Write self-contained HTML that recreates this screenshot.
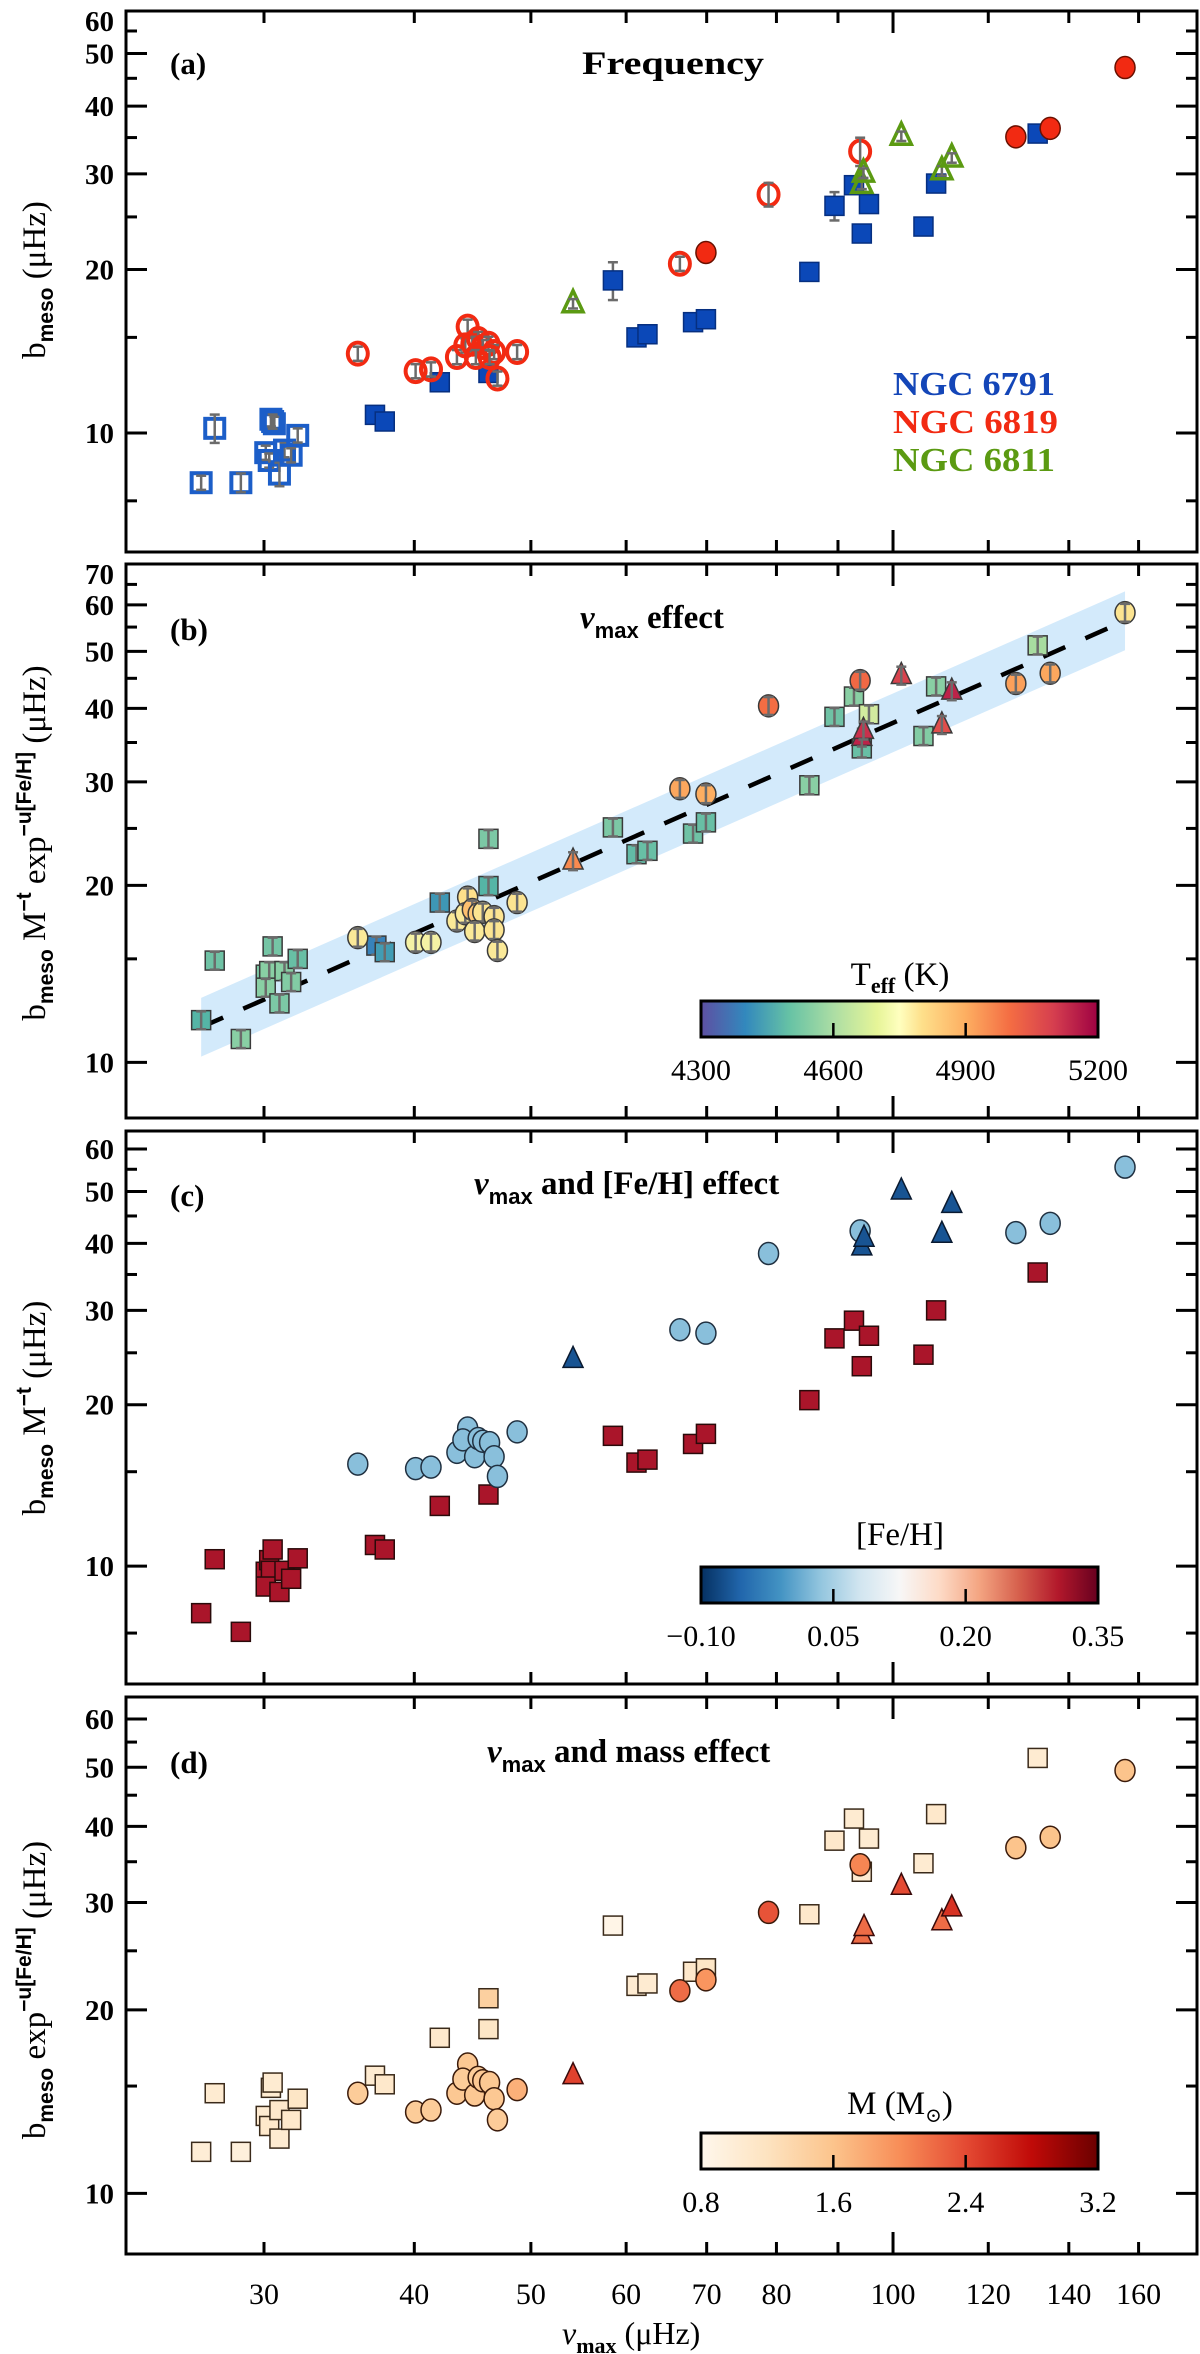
<!DOCTYPE html>
<html><head><meta charset="utf-8"><title>bmeso vs numax</title>
<style>
html,body{margin:0;padding:0;background:#fff;}
svg{display:block;font-family:"Liberation Serif","DejaVu Serif",serif;}
</style></head>
<body>
<svg id="fig" xmlns="http://www.w3.org/2000/svg" width="1200" height="2354" viewBox="0 0 1200 2354">
<defs>
<linearGradient id="gT" x1="0" x2="1" y1="0" y2="0">
<stop offset="0" stop-color="#5e4fa2"/><stop offset="0.111" stop-color="#3288bd"/><stop offset="0.222" stop-color="#66c2a5"/><stop offset="0.333" stop-color="#abdda4"/><stop offset="0.444" stop-color="#e6f598"/><stop offset="0.5" stop-color="#ffffbf"/><stop offset="0.556" stop-color="#fee08b"/><stop offset="0.667" stop-color="#fdae61"/><stop offset="0.778" stop-color="#f46d43"/><stop offset="0.889" stop-color="#d53e4f"/><stop offset="1" stop-color="#9e0142"/>
</linearGradient>
<linearGradient id="gF" x1="0" x2="1" y1="0" y2="0">
<stop offset="0" stop-color="#053061"/><stop offset="0.1" stop-color="#2166ac"/><stop offset="0.2" stop-color="#4393c3"/><stop offset="0.3" stop-color="#92c5de"/><stop offset="0.4" stop-color="#d1e5f0"/><stop offset="0.5" stop-color="#f7f7f7"/><stop offset="0.6" stop-color="#fddbc7"/><stop offset="0.7" stop-color="#f4a582"/><stop offset="0.8" stop-color="#d6604d"/><stop offset="0.9" stop-color="#b2182b"/><stop offset="1" stop-color="#67001f"/>
</linearGradient>
<linearGradient id="gM" x1="0" x2="1" y1="0" y2="0">
<stop offset="0" stop-color="#fff7ec"/><stop offset="0.167" stop-color="#fde3c0"/><stop offset="0.333" stop-color="#fcc48c"/><stop offset="0.5" stop-color="#f88e58"/><stop offset="0.667" stop-color="#e44a33"/><stop offset="0.833" stop-color="#c00a08"/><stop offset="1" stop-color="#6b0000"/>
</linearGradient>
</defs>
<g id="layer"></g>
</svg>
<script>
// ---------- DATA ----------
// Panel (a)
const a6791openNu = [26.6,27.3,28.7,30.1,30.3,30.4,30.6,30.9,31.2,31.6,32.0,30.5];
const a6791openB  = [8.1,10.2,8.1,9.2,8.9,10.6,10.4,8.4,9.3,9.1,9.9,10.5];
const a6791openErr= [0.03,0.06,0.04,0.03,0.03,0.03,0.03,0.05,0.03,0.03,0.03,0.03];
const a6791fillNu = [37.1,37.8,42.0,46.1,58.5,61.2,62.5,68.2,69.9,85.2,89.4,92.8,94.2,95.5,106,108.6,131.9];
const a6791fillB  = [10.8,10.5,12.4,12.9,19.1,15.0,15.2,16.0,16.2,19.8,26.2,28.6,23.3,26.4,24.0,28.8,35.6];
const a6791fillErr= [0.02,0.02,0.03,0.03,0.08,0.02,0.02,0.02,0.02,0.03,0.06,0.03,0.02,0.02,0.02,0.02,0.02];
const a6819openNu = [35.9,40.1,41.3,43.4,44.3,44.1,44.7,45.2,45.6,46.1,46.6,46.9,48.7,45.0,46.2,66.5,78.8,93.9];
const a6819openB  = [14.0,13.0,13.1,13.8,15.7,14.5,14.6,14.9,14.4,14.6,14.1,12.6,14.1,13.8,13.8,20.5,27.5,33.0];
const a6819openErr= [0.03,0.03,0.03,0.03,0.03,0.03,0.03,0.03,0.03,0.03,0.03,0.03,0.03,0.03,0.03,0.03,0.05,0.06];
const a6819fillNu = [69.9,126.5,135.1,155.9];
const a6819fillB  = [21.5,35.1,36.4,47.1];
const a6811Nu = [54.2,94.2,94.5,101.6,109.8,111.9];
const a6811B  = [17.3,28.7,30.1,35.2,30.4,32.1];
// Panel (b)
const bSqNu = [26.6,27.3,28.7,30.1,30.3,30.5,30.1,30.9,31.2,31.6,32.0,37.2,37.8,42.0,46.1,46.1,58.5,61.2,62.5,68.2,69.9,85.2,89.4,92.8,94.2,95.5,106,108.6,131.9];
const bSqV  = [11.8,14.9,10.96,14.1,14.3,15.75,13.4,12.6,14.3,13.7,15.0,15.8,15.4,18.7,19.95,24.0,25.1,22.6,22.9,24.5,25.6,29.6,38.7,41.9,34.2,39.1,35.9,43.6,51.2];
const bSqT  = [4480,4520,4560,4540,4560,4530,4560,4540,4560,4550,4510,4380,4430,4420,4480,4540,4540,4500,4510,4520,4510,4560,4520,4560,4510,4680,4550,4560,4610];
const bCiNu = [35.9,40.1,41.3,43.4,44.3,44.1,44.7,45.2,45.6,46.6,44.9,46.6,46.9,48.7,66.5,69.9,78.8,93.9,126.5,135.1,155.9];
const bCiV  = [16.3,16.0,16.0,17.4,19.1,17.9,18.2,17.9,18.0,17.7,16.7,16.8,15.5,18.7,29.2,28.6,40.4,44.6,44.1,45.9,58.2];
const bCiT  = [4800,4760,4760,4800,4840,4800,4900,4880,4820,4820,4800,4820,4800,4820,4940,4930,5020,5030,4950,4940,4820];
const bTrNu = [54.2,94.2,94.5,101.6,109.8,111.9];
const bTrV  = [22.0,35.7,36.7,45.5,37.5,42.8];
const bTrT  = [4980,5150,5130,5100,5080,5150];
const bFit  = [0.599,0.900];   // b = k * numax^s
const bBand = [0.05];          // dex half-width
// Panel (c)
const cSqNu = [26.6,27.3,28.7,30.1,30.3,30.5,30.4,30.1,30.9,31.2,31.6,32.0,37.1,37.8,42.0,46.1,58.5,61.2,62.5,68.2,69.9,85.2,89.4,92.8,94.2,95.5,106,108.6,131.9];
const cSqV  = [8.17,10.3,7.54,9.76,10.26,10.74,9.8,9.16,8.95,9.8,9.47,10.34,10.95,10.74,12.95,13.6,17.5,15.6,15.8,16.9,17.65,20.4,26.6,28.7,23.6,26.9,24.8,30.0,35.3];
const cSqF  = 0.31;
const cCiNu = [35.9,40.1,41.3,43.4,44.3,43.9,44.9,45.2,45.6,46.2,46.6,46.9,48.7,66.5,69.9,78.8,93.9,126.5,135.1,155.9];
const cCiV  = [15.5,15.2,15.3,16.3,18.1,17.2,16.0,17.3,17.1,17.0,16.0,14.7,17.8,27.6,27.2,38.3,42.2,41.9,43.6,55.5];
const cCiF  = 0.03;
const cTrNu = [54.2,94.2,94.6,101.6,109.8,111.9];
const cTrV  = [24.3,39.4,40.9,50.1,41.6,47.3];
const cTrF  = -0.07;
// Panel (d)
const dSqNu = [26.6,27.3,28.7,30.4,30.5,30.1,30.3,30.9,30.9,31.6,32.0,37.1,37.8,42.0,46.1,46.1,58.5,61.2,62.5,68.2,69.9,85.2,89.4,92.8,94.2,95.5,106,108.6,131.9];
const dSqV  = [11.7,14.6,11.7,14.9,15.2,13.4,12.9,12.3,13.7,13.2,14.3,15.6,15.1,18.0,18.6,20.9,27.5,21.9,22.1,23.1,23.4,28.7,37.9,41.2,33.7,38.2,34.8,41.9,51.8];
const dSqM  = [1.0,1.05,0.95,1.05,1.05,1.05,1.1,1.05,1.1,1.1,1.15,1.05,1.1,1.1,1.15,1.45,0.85,1.05,1.05,1.1,1.15,1.1,1.1,1.05,1.05,1.05,1.05,1.1,1.05];
const dCiNu = [35.9,40.1,41.3,43.4,44.3,43.9,44.9,45.2,45.6,46.2,46.6,46.9,48.7,66.5,69.9,78.8,93.9,126.5,135.1,155.9];
const dCiV  = [14.6,13.6,13.7,14.6,16.3,15.4,14.5,15.5,15.3,15.2,14.3,13.2,14.8,21.5,22.4,28.9,34.6,36.9,38.4,49.4];
const dCiM  = [1.5,1.5,1.5,1.55,1.55,1.5,1.55,1.5,1.55,1.55,1.55,1.5,1.75,2.2,1.95,2.35,2.05,1.6,1.6,1.6];
const dTrNu = [54.2,94.2,94.6,101.6,109.8,111.9];
const dTrV  = [15.6,26.5,27.3,31.9,27.9,29.4];
const dTrM  = [2.45,2.2,2.2,2.4,2.2,2.55];
// axis ticks
const xTickVals = [30,40,50,60,70,80,90,100,120,140,160];
const xTickLabels = ["30","40","50","60","70","80","","100","120","140","160"];

// ---------- GEOMETRY ----------
const NS = "http://www.w3.org/2000/svg";
const L = document.getElementById('layer');
const XL = 126, XR = 1197;
const X = v => 264 + 1203*Math.log10(v/30);
const PANELS = {
  a:{top:11, bot:552, y10:433, dec:543, minor:[7.5,15,25,35,45,55], major:[10,20,30,40,50,60]},
  b:{top:564, bot:1118, y10:1062.4, dec:588, minor:[15,25,35,45,55,65], major:[10,20,30,40,50,60,70]},
  c:{top:1131, bot:1684, y10:1566.1, dec:536, minor:[7.5,15,25,35,45,55], major:[10,20,30,40,50,60]},
  d:{top:1697, bot:2254, y10:2193.4, dec:609.6, minor:[15,25,35,45,55], major:[10,20,30,40,50,60]}
};
const Y = (p,v) => p.y10 - p.dec*Math.log10(v/10);

function mk(tag, attrs, parent){
  const e = document.createElementNS(NS, tag);
  for (const k in attrs) e.setAttribute(k, attrs[k]);
  (parent||L).appendChild(e);
  return e;
}
function hex2rgb(h){return [parseInt(h.substr(1,2),16),parseInt(h.substr(3,2),16),parseInt(h.substr(5,2),16)];}
function cmap(stops, lo, hi, v){
  let t = Math.max(0, Math.min(1, (v-lo)/(hi-lo)));
  const n = stops.length-1;
  const i = Math.min(n-1, Math.floor(t*n));
  const f = t*n - i;
  const c0 = hex2rgb(stops[i]), c1 = hex2rgb(stops[i+1]);
  return 'rgb(' + c0.map((c,k)=>Math.round(c+(c1[k]-c)*f)).join(',') + ')';
}
const TSTOPS = ['#5e4fa2','#3288bd','#55b5a6','#8fd2a4','#c8e89c','#f4f4a8','#fee08b','#fdae61','#f46d43','#d53e4f','#9e0142'];
const FSTOPS = ['#053061','#2166ac','#4393c3','#92c5de','#d1e5f0','#f7f7f7','#fddbc7','#f4a582','#d6604d','#b2182b','#67001f'];
const MSTOPS = ['#fff7ec','#fde3c0','#fcc48c','#f88e58','#e44a33','#c00a08','#6b0000'];

// ---------- AXES ----------
function drawAxes(key){
  const p = PANELS[key];
  const g = mk('g', {});
  
  
  const fr = mk('rect', {x:XL, y:p.top, width:XR-XL, height:p.bot-p.top, fill:'none', stroke:'#000', 'stroke-width':3}, g);
  
  
  xTickVals.forEach((v,i)=>{
    const len = v===100 ? 22 : 12;
    const x = X(v);
    const t1 = mk('line', {x1:x, x2:x, y1:p.bot, y2:p.bot-len, stroke:'#000', 'stroke-width':3}, g);
    
    
    const t2 = mk('line', {x1:x, x2:x, y1:p.top, y2:p.top+len, stroke:'#000', 'stroke-width':3}, g);
    
    
  });
  const ticks = p.major.map(v=>[v,21]).concat(p.minor.map(v=>[v,11]));
  ticks.forEach(([v,len])=>{
    const y = Y(p,v);
    if (y < p.top+2 || y > p.bot-2) return;
    const t1 = mk('line', {x1:XL, x2:XL+len, y1:y, y2:y, stroke:'#000', 'stroke-width':3}, g);
    
    
    const t2 = mk('line', {x1:XR, x2:XR-len, y1:y, y2:y, stroke:'#000', 'stroke-width':3}, g);
    
    
  });
  p.major.forEach(v=>{
    let y = Y(p,v);
    if (y < p.top+8) y = p.top + 10;
    const t = mk('text', {x:114, y:y+10, 'text-anchor':'end', 'font-size':29, 'font-weight':'bold'}, g);
    
    
    t.textContent = String(v);
  });
}

// ---------- MARKS ----------
function errBar(g, x, y1, y2){
  const e = mk('g', {stroke:'#6b6b6b', 'stroke-width':2.5, fill:'none'}, g);
  
  
  mk('line', {x1:x, x2:x, y1:y1, y2:y2}, e);
  mk('line', {x1:x-5, x2:x+5, y1:y1, y2:y1}, e);
  mk('line', {x1:x-5, x2:x+5, y1:y2, y2:y2}, e);
}
function marker(g, shape, x, y, fill, stroke, sw, name){
  let m;
  if (shape==='sq') m = mk('rect', {x:x-9.5, y:y-9.5, width:19, height:19, fill:fill, stroke:stroke, 'stroke-width':sw}, g);
  else if (shape==='ci') m = mk('ellipse', {cx:x, cy:y, rx:10, ry:11, fill:fill, stroke:stroke, 'stroke-width':sw}, g);
  else m = mk('polygon', {points:(x)+','+(y-13)+' '+(x-10)+','+(y+8)+' '+(x+10)+','+(y+8), fill:fill, stroke:stroke, 'stroke-width':sw, 'stroke-linejoin':'miter'}, g);
  
  
  return m;
}
function series(key, name, shape, nus, vals, colorFn, stroke, sw, errs, errInside){
  const p = PANELS[key];
  const g = mk('g', {});
  
  
  nus.forEach((nu,i)=>{
    const x = X(nu), y = Y(p, vals[i]);
    const fill = colorFn(i);
    if (errs && !errInside) errBar(g, x, Y(p, vals[i]*(1+errs[i])), Y(p, vals[i]*(1-errs[i])));
    marker(g, shape, x, y, fill, stroke, sw, name + '-point');
    if (errs && errInside) errBar(g, x, Y(p, vals[i]*(1+errs[i])), Y(p, vals[i]*(1-errs[i])));
  });
}

// ---------- TEXT HELPERS ----------
function txt(x, y, s, size, opts, name){
  const a = {x:x, y:y, 'font-size':size};
  Object.assign(a, opts||{});
  const t = mk('text', a);
  
  
  t.textContent = s;
  return t;
}
function ts(parent, s, attrs){
  const t = mk('tspan', attrs||{}, parent);
  t.textContent = s;
  return t;
}

// ---------- DRAW ----------
['a','b','c','d'].forEach(drawAxes);

// panel (a)
const BLUE='#0b48b8', RED='#f22a12', GREEN='#5b9a12';
series('a','ngc6791-rgb','sq',a6791openNu,a6791openB,()=> 'none','#1c5ec8',4,a6791openErr,true);
series('a','ngc6791','sq',a6791fillNu,a6791fillB,()=>BLUE,'#062f80',1.5,a6791fillErr,false);
series('a','ngc6819-rgb','ci',a6819openNu,a6819openB,()=> 'none',RED,4,a6819openErr,true);
series('a','ngc6819','ci',a6819fillNu,a6819fillB,()=>RED,'#6a1000',1.5,null,false);
series('a','ngc6811','tr',a6811Nu,a6811B,()=> 'none',GREEN,3.5,[0.02,0.02,0.02,0.02,0.02,0.02],true);
txt(170,74,'(a)',31,{'font-weight':'bold'},'panel-a-label');
txt(582,74,'Frequency',33,{'font-weight':'bold',textLength:182,lengthAdjust:'spacingAndGlyphs'},'panel-a-title');
const lg1 = txt(893,395,'NGC 6791',34,{'font-weight':'bold',fill:'#1446b8',textLength:162,lengthAdjust:'spacingAndGlyphs'},'legend-ngc6791');
const lg2 = txt(893,433,'NGC 6819',34,{'font-weight':'bold',fill:RED,textLength:165,lengthAdjust:'spacingAndGlyphs'},'legend-ngc6819');
const lg3 = txt(893,471,'NGC 6811',34,{'font-weight':'bold',fill:GREEN,textLength:162,lengthAdjust:'spacingAndGlyphs'},'legend-ngc6811');

// panel (b): band + fit line
(function(){
  const p = PANELS.b;
  const n0 = 26.6, n1 = 155.9;
  const f = nu => bFit[0]*Math.pow(nu, bFit[1]);
  const up = nu => f(nu)*Math.pow(10, bBand[0]);
  const lo = nu => f(nu)*Math.pow(10, -bBand[0]);
  const band = mk('polygon', {points:[[X(n0),Y(p,up(n0))],[X(n1),Y(p,up(n1))],[X(n1),Y(p,lo(n1))],[X(n0),Y(p,lo(n0))]].map(q=>q.join(',')).join(' '), fill:'#d3eafb'});
  
  
  const ln = mk('line', {x1:X(n0), y1:Y(p,f(n0)), x2:X(n1), y2:Y(p,f(n1)), stroke:'#000', 'stroke-width':4.5, 'stroke-dasharray':'24,22'});
  
  
})();
const errB = n => Array(n).fill(0.035);
series('b','b-ngc6791','sq',bSqNu,bSqV,i=>cmap(TSTOPS,4300,5200,bSqT[i]),'#3a3a3a',1.5,errB(bSqNu.length),true);
series('b','b-ngc6819','ci',bCiNu,bCiV,i=>cmap(TSTOPS,4300,5200,bCiT[i]),'#3a3a3a',1.5,errB(bCiNu.length),true);
series('b','b-ngc6811','tr',bTrNu,bTrV,i=>cmap(TSTOPS,4300,5200,bTrT[i]),'#3a3a3a',1.5,errB(bTrNu.length),true);
txt(170,640,'(b)',31,{'font-weight':'bold'},'panel-b-label');
(function(){
  const t = txt(580,628,'',33,{'font-weight':'bold'},'panel-b-title');
  ts(t,'ν',{'font-style':'italic'});
  ts(t,'max',{'font-size':22,'font-family':'Liberation Sans, sans-serif',dy:10});
  ts(t,' effect',{dy:-10});
})();

// panel (c)
series('c','c-ngc6791','sq',cSqNu,cSqV,()=>cmap(FSTOPS,-0.10,0.35,cSqF),'#2a0a0a',1.5,null,false);
series('c','c-ngc6819','ci',cCiNu,cCiV,()=>cmap(FSTOPS,-0.10,0.35,cCiF),'#203040',1.5,null,false);
series('c','c-ngc6811','tr',cTrNu,cTrV,()=>cmap(FSTOPS,-0.10,0.35,cTrF),'#0a1a30',1.5,null,false);
txt(170,1206,'(c)',31,{'font-weight':'bold'},'panel-c-label');
(function(){
  const t = txt(474,1194,'',33,{'font-weight':'bold'},'panel-c-title');
  ts(t,'ν',{'font-style':'italic'});
  ts(t,'max',{'font-size':22,'font-family':'Liberation Sans, sans-serif',dy:10});
  ts(t,' and [Fe/H] effect',{dy:-10});
})();

// panel (d)
series('d','d-ngc6791','sq',dSqNu,dSqV,i=>cmap(MSTOPS,0.8,3.2,dSqM[i]),'#3a2a1a',1.5,null,false);
series('d','d-ngc6819','ci',dCiNu,dCiV,i=>cmap(MSTOPS,0.8,3.2,dCiM[i]),'#3a1a0a',1.5,null,false);
series('d','d-ngc6811','tr',dTrNu,dTrV,i=>cmap(MSTOPS,0.8,3.2,dTrM[i]),'#3a0a0a',1.5,null,false);
txt(170,1773,'(d)',31,{'font-weight':'bold'},'panel-d-label');
(function(){
  const t = txt(487,1762,'',33,{'font-weight':'bold'},'panel-d-title');
  ts(t,'ν',{'font-style':'italic'});
  ts(t,'max',{'font-size':22,'font-family':'Liberation Sans, sans-serif',dy:10});
  ts(t,' and mass effect',{dy:-10});
})();

// colorbars
function colorbar(key, y0, grad, labels, labelY, titleY, titleParts){
  const g = mk('g', {});
  
  
  const r = mk('rect', {x:701, y:y0, width:397, height:36, fill:'url(#' + grad + ')', stroke:'#000', 'stroke-width':3}, g);
  
  
  [1,2].forEach(k=>{
    const x = 701 + 397*k/3;
    const tk = mk('line', {x1:x, x2:x, y1:y0+36, y2:y0+22, stroke:'#000', 'stroke-width':2.5}, g);
    
    
  });
  labels.forEach((s,k)=>{
    const t = mk('text', {x:701+397*k/3, y:labelY+10, 'text-anchor':'middle', 'font-size':30}, g);
    
    
    t.textContent = s;
  });
  const tt = mk('text', {x:900, y:titleY+10, 'text-anchor':'middle', 'font-size':33}, g);
  
  
  titleParts(tt);
}
colorbar('teff', 1001, 'gT', ['4300','4600','4900','5200'], 1070, 975, t=>{ts(t,'T');ts(t,'eff',{'font-size':22,dy:8,'font-weight':'bold'});ts(t,' (K)',{dy:-8});});
colorbar('feh', 1567, 'gF', ['\u22120.10','0.05','0.20','0.35'], 1636, 1535, t=>{ts(t,'[Fe/H]');});
colorbar('mass', 2133, 'gM', ['0.8','1.6','2.4','3.2'], 2202, 2104, t=>{ts(t,'M (M');ts(t,'\u2299',{'font-size':20,dy:8});ts(t,')',{dy:-8});});

// x tick labels + x title
xTickLabels.forEach((s,i)=>{
  if (!s) return;
  const t = mk('text', {x:X(xTickVals[i]), y:2304, 'text-anchor':'middle', 'font-size':30});
  
  
  t.textContent = s;
});
(function(){
  const t = mk('text', {x:562, y:2344, 'font-size':32});
  
  
  ts(t,'ν',{'font-style':'italic'});
  ts(t,'max',{'font-size':22,dy:9,'font-weight':'bold'});
  ts(t,' (μHz)',{dy:-9});
})();

// y axis titles
function ytitle(cy, name, build){
  const t = mk('text', {x:0, y:0, 'text-anchor':'middle', 'font-size':33, transform:'translate(45,' + cy + ') rotate(-90)'});
  
  
  build(t);
}
const SUB = {'font-size':21,'font-weight':'bold','font-family':'Liberation Sans, sans-serif'};
ytitle(280,'y-axis-title-a',t=>{ts(t,'b');ts(t,'meso',Object.assign({dy:8},SUB));ts(t,' (μHz)',{dy:-8});});
ytitle(843,'y-axis-title-b',t=>{ts(t,'b');ts(t,'meso',Object.assign({dy:8},SUB));ts(t,' M',{dy:-8});ts(t,'\u2212t',Object.assign({dy:-14},SUB));ts(t,' exp',{dy:14});ts(t,'\u2212u[Fe/H]',Object.assign({dy:-14,'font-size':17},SUB));ts(t,' (μHz)',{dy:14});});
ytitle(1408,'y-axis-title-c',t=>{ts(t,'b');ts(t,'meso',Object.assign({dy:8},SUB));ts(t,' M',{dy:-8});ts(t,'\u2212t',Object.assign({dy:-14},SUB));ts(t,' (μHz)',{dy:14});});
ytitle(1990,'y-axis-title-d',t=>{ts(t,'b');ts(t,'meso',Object.assign({dy:8},SUB));ts(t,' exp',{dy:-8});ts(t,'\u2212u[Fe/H]',Object.assign({dy:-14,'font-size':17},SUB));ts(t,' (μHz)',{dy:14});});
</script>
</body></html>
